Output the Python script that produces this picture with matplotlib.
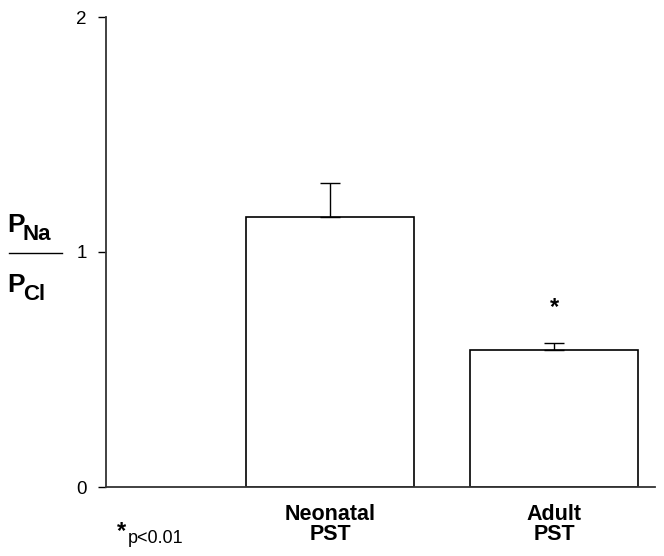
import matplotlib
matplotlib.use("Agg")
import matplotlib.pyplot as plt

categories = ["Neonatal\nPST", "Adult\nPST"]
values = [1.15, 0.583]
errors = [0.145, 0.03]
yticks = [0, 1, 2]
ytick_labels = ["0", "1", "2"]

plt.rcParams['font.family'] = ['Liberation Sans', 'DejaVu Sans']

fig = plt.figure(figsize=(6.64, 5.56), dpi=100)
ax = fig.add_axes([106/664, 1-487/556, (655-106)/664, (487-17)/556])

pos = [1, 2]
ax.bar(pos, values, width=0.75, color="white", edgecolor="black", linewidth=1.2, zorder=2)
ax.errorbar(pos, values, yerr=[[0, 0], errors], fmt="none", ecolor="black",
            elinewidth=1.0, capsize=7, capthick=1.0, zorder=3)

ax.set_xlim(0, 2.45)
ax.set_ylim(0, 2)
ax.set_yticks(yticks)
ax.set_yticklabels(ytick_labels, fontsize=13.5)
ax.set_xticks(pos)
ax.set_xticklabels(categories, fontsize=15.5, fontweight="bold", linespacing=0.95)
ax.tick_params(axis="x", length=0, pad=12)
ax.tick_params(axis="y", length=6, width=1.0, pad=8, direction="out")
for s in ["top", "right"]:
    ax.spines[s].set_visible(False)
for s in ["left", "bottom"]:
    ax.spines[s].set_linewidth(1.3)
    ax.spines[s].set_color("#333333")

# significance star
ax.text(2, values[1] + errors[1] + 0.15, "*", ha="center", va="center",
        fontsize=17, fontweight="bold")

# y label as fraction
def ylab_part(y_main, y_sub, sub):
    fig.text(7/664, 1-y_main/556, "P", ha="left", va="baseline",
             fontsize=19, fontweight="bold")
    fig.text(23/664, 1-y_sub/556, sub, ha="left", va="baseline",
             fontsize=16, fontweight="bold")

ylab_part(232, 240, "Na")
ylab_part(292, 300, "Cl")
fig.add_artist(plt.Line2D([9/664, 62/664], [1-253/556, 1-253/556],
                          color="black", linewidth=1.0))

# footnote
fig.text(117/664, 1-538/556, "*", ha="left", va="baseline", fontsize=17, fontweight="bold")
fig.text(128/664, 1-543/556, "p<0.01", ha="left", va="baseline", fontsize=13)

fig.savefig("out.png", dpi=100)
